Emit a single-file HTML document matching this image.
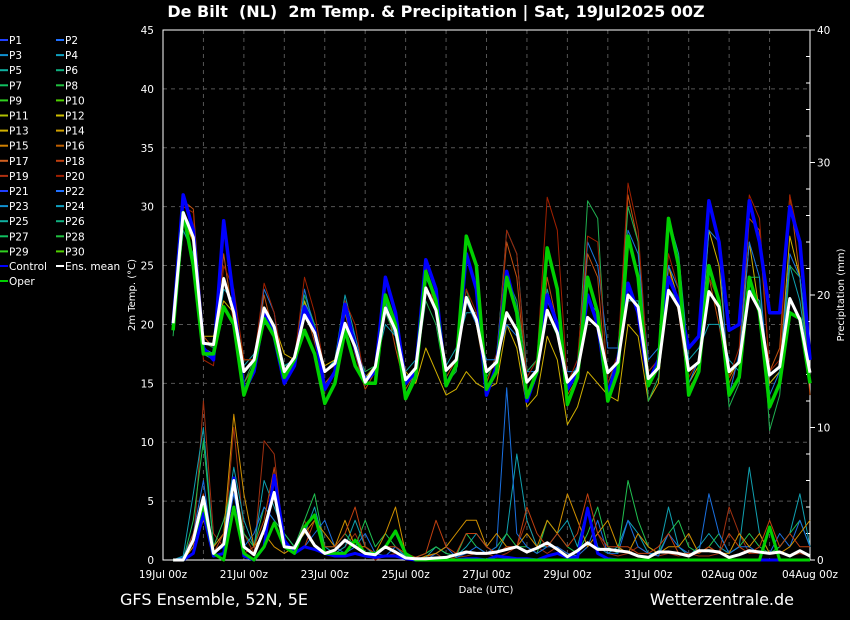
<!DOCTYPE html>
<html><head><meta charset="utf-8"><style>
html,body{margin:0;padding:0;background:#000;width:850px;height:620px;overflow:hidden}
svg{display:block;font-family:"DejaVu Sans","Liberation Sans",sans-serif}
text{white-space:pre}
</style></head><body>
<svg id="chart" width="850" height="620" viewBox="0 0 850 620">
<text x="436" y="17" fill="#fff" font-size="16" font-weight="bold" text-anchor="middle" xml:space="preserve">De Bilt  (NL)  2m Temp. &amp; Precipitation | Sat, 19Jul2025 00Z</text>
<g id="grid"></g>
<g id="axes"></g>
<g id="series"></g>
<g id="legend"></g>
<text transform="translate(135,295) rotate(-90)" fill="#fff" font-size="10" text-anchor="middle">2m Temp. (°C)</text>
<text transform="translate(844,295) rotate(-90)" fill="#fff" font-size="10" text-anchor="middle">Precipitation (mm)</text>
<text x="486" y="593" fill="#fff" font-size="10" text-anchor="middle">Date (UTC)</text>
<text x="120" y="605" fill="#fff" font-size="16">GFS Ensemble, 52N, 5E</text>
<text x="794" y="605" fill="#fff" font-size="16" text-anchor="end">Wetterzentrale.de</text>
</svg>
<script>
const xLabels=["19Jul 00z","21Jul 00z","23Jul 00z","25Jul 00z","27Jul 00z","29Jul 00z","31Jul 00z","02Aug 00z","04Aug 00z"];
const tempTicks=[0,5,10,15,20,25,30,35,40,45];
const precTicks=[0,10,20,30,40];
const meanTemp=[20.1,29.5,27.4,18.4,18.3,23.9,21,16,17,21.4,19.8,16,17.2,20.8,19.3,16,16.7,20.1,18.1,15.1,16.4,21.4,19.5,15.3,16.3,23.1,21.2,16.1,17,22.3,20.4,16,16.8,21,19.5,15.1,16.1,21.2,19.3,15.1,16.1,20.6,19.8,15.9,16.8,22.5,21.5,15.4,16.3,22.9,21.5,16.1,16.8,22.8,21.5,16,16.8,22.8,21.2,15.7,16.4,22.2,20.4,15.9];
const controlTemp=[20,31,28,18,17,28.8,22,14.3,16,21,19,15,16.5,21.5,19.5,14.5,16,21.7,18,15.2,16,24,21,15,16,25.5,23,14.8,16.5,26,23,14,16.5,24.5,21,13.5,16,22.5,20,14.5,16,22.5,20,14,17,23.5,21,15,17,24,22,18,19,30.5,27,19.5,20,30.5,27,21,21,30,27,17];
const operTemp=[19.5,29.5,25,17.5,17.5,21.5,20,14,16.5,20.5,19,15.5,17,19.5,17.5,13.3,15,19.5,16.5,15,15,22.5,20,13.7,15.5,24.5,22,14.8,16.5,27.5,25,14.5,16,24,21,13.8,16,26.5,23,13.2,15.5,24,21,13.5,16,27.5,24,14.8,16.5,29,25,14,16,25,22,14,15.5,24,21,13,15,21,20.5,15];
const memT1=[20,30.5,29.8,19,18,26,20,15,16.5,22.5,19,15.5,17,21.5,18.5,15,16,21,17.5,14.5,16,22,18,14.5,16,25,21,15.5,17,22,20,15,17.5,27,24,15,16,24,20,14,15.5,26,24,13.5,16,31,27,15,16.5,25,21,14.5,16,24,20,15,17,29,28,16,18,31,24,14];
const memT2=[19.5,28,26,17.5,17,23,22,16.5,17.5,20,20,16.5,17,22,20,16,17,22.5,19,15.5,16.5,20,19,16,17,24,22,16.5,18,21,21,16,17,28,26,16,17,23,19.5,15,16.5,22,21,15,17,22,22,16,17,29,26,17,18,20,20,17,16,23,22,15,16,25,22,16];
const memT3=[20.5,29,27,19,19,22,21,17,17,21.5,20,17.5,17,22,19,16.5,17,21,18,15.5,16.5,22,20,16,15,18,16,14,14.5,16,15,14.5,15,20,18,13,14,19,17,11.5,13,16,15,14,13.5,20,19,13.5,15,25,22,15,16.5,28,25,15.5,17,27,21,15,16,27.5,24,16];
const memT4=[19,29.5,28,18.5,18,24,21,15,17,21,19.5,16.5,16.5,22.5,20,14.5,16,20,18,16,16.5,21,19,14,16,22,20,15,16,23,20,15.5,17,24,22,16,17,21,19,14.5,16,30.5,29,14,17,30,27,13.5,15.5,23,22,14,16,24,22,13,15,24,24,11,14,25,24,15];
const memT5=[20,31,28,18,17.5,28.5,22,16,17,23,21,15,17,23,19.5,16,16.5,21,19,15.5,16,22,19,15,16,23,22,16,17,22,20,17,17,20,19,16,16,22,20,16,16,27,25,18,18,28,26,17,18,25,23,15,17,28,27,14,17.5,27,24,14,16,26,24,17];
const memT6=[20,30,29.5,17,16.5,25,23,17,17,23.5,21,16,17,24,21,16,16.5,22,20,15,16.5,24,21,15,16.5,23,22,16,17,23,21,16,16.5,28,26,15.5,17,30.8,28,15,17,27.5,27,15,17.5,32,28,16,17,26,23,15.5,17,24,22,15.5,18,31,29,16,17,31,27,15];
const meanPrec=[0,0,1.5,4.75,0.5,1.2,6,1,0.4,2.3,5.1,1,0.9,2.3,1.1,0.5,0.75,1.5,1,0.5,0.4,1,0.6,0.15,0.1,0.1,0.15,0.2,0.4,0.6,0.5,0.5,0.6,0.8,1,0.6,0.9,1.3,0.8,0.25,0.7,1.3,0.8,0.8,0.7,0.6,0.3,0.2,0.6,0.6,0.5,0.3,0.7,0.7,0.6,0.2,0.4,0.7,0.6,0.5,0.6,0.3,0.7,0.3];
const controlPrec=[0,0,0.5,3.5,0.3,0.5,6.2,0.3,0,1,6.4,1.5,0.5,1,0.8,0.5,0.3,0.3,0.5,0.3,0.2,0.3,0.3,0.1,0,0,0,0,0,0.1,0.1,0,0.3,0.2,0.1,0.1,0,0.3,0.5,0.2,0.2,3.9,0.5,0.1,0,0,0,0,0,0,0,0,0,0,0,0,0,0,0,0,0,0,0,0];
const operPrec=[0,0,1.5,4.3,0.5,0,4,0.5,0,1,2.8,1,0.5,2.5,3.4,0.5,0.5,0.5,1.5,0.5,0.5,1,2.2,0.5,0,0,0,0,0,0,0,0,0,0,0,0,0,0,0,0,0,0,0,0,0,0,0,0,0,0,0,0,0,0,0,0,0,0,0,2.5,0,0,0,0];
const memP1=[0,0,1,12,2,1,10,2,0.5,9,8,1,0.5,3,1,0.5,0.5,1,2,0.5,0,0.3,0.5,0,0,0.2,0.5,0,0.2,0.3,0.5,0.5,0.2,0.5,1,3,1,0.5,1,0.5,0.3,1,2,0.5,0.3,0.5,1,0.5,0.3,0.5,0.3,0.5,0.3,0.3,0.5,4,2,0.5,0.5,0.5,0.5,0.3,0.5,0.3];
const memP2=[0,0.3,5,10,1,2,7,3,1,6,4,2,1,2,4,1,0.5,1,3,1,0.3,1,2,0.3,0,0.2,1,0.5,0.3,1,2,1,0.5,2,8,3,1,1,2,3,1,4,1,0.5,1,3,2,0.5,0.5,4,1,0.3,1,2,1,0.5,1,7,2,0.5,1,2,5,1];
const memP3=[0,0,3,9,1,3,6,2,1,4,3,2,1,3,5,1,1,2,1,3,1,2,1,0.3,0.2,0.5,1,0.5,0.3,2,1,0.5,1,2,1,1,0.5,3,2,1,0.5,2,4,1,0.5,6,3,1,0.5,2,3,1,0.5,1,2,0.5,1,2,1,0.5,1,2,3,1];
const memP4=[0,0.2,2,6,0.5,1,5,1,2,4,3,1,0.5,1,2,3,1,0.5,1,2,0.5,0.3,1,0.2,0,0,0.5,1,0.2,0.5,1,0.5,1,13,2,1,0.5,1,1,0.5,0.3,1,3,0.5,0.5,3,1,0.5,0.3,2,1,0.5,0.5,5,2,0.5,1,1,0.5,0.5,2,1,3,1];
const memP5=[0,0,1,3,1,2,11,5,1,2,1,0.5,1,2,3,2,1,3,1,1,0.5,2,4,0.5,0,0.3,0.5,1,2,3,3,1,2,1,1,2,1,3,2,5,3,1,2,3,1,0.5,2,1,0.5,1,1,2,0.5,1,0.5,0.5,2,1,2,0.5,0.5,1,2,3];
const memP6=[0,0,2,5,0.5,2,4,0.5,1,3,7,1,0.5,1,3,1,1,2,4,1,0.5,1,1,0.5,0.2,0.5,3,1,0.5,2,2,1,0.5,1,1,4,2,1,2,1,2,5,2,1,1,1,0.5,0.5,1,2,0.5,0.5,0.5,1,0.5,2,1,0.5,1,3,1,2,1,1];
const legendNames=["P1","P2","P3","P4","P5","P6","P7","P8","P9","P10","P11","P12","P13","P14","P15","P16","P17","P18","P19","P20","P21","P22","P23","P24","P25","P26","P27","P28","P29","P30"];

const NS="http://www.w3.org/2000/svg";
const X0=163,X1=810,Y0=560,Y1=30,NSTEP=64;
function xs(i){return X0+(X1-X0)*i/NSTEP;}
function yT(t){return Y0-(Y0-Y1)*t/45;}
function yP(p){return Y0-(Y0-Y1)*p/40;}
function mk(tag,attrs,parent){const e=document.createElementNS(NS,tag);for(const k in attrs)e.setAttribute(k,attrs[k]);parent.appendChild(e);return e;}
function legendColor(k){const c=["#2040ff","#2070ff","#1090d0","#10a0c0","#10b0a0","#10b080","#10c060","#20c040","#30d020","#50d000","#b0c000","#d0c000","#d0b000","#d0a000","#d08000","#c06000","#d06020","#c04010","#b03010","#a02000"];return c[k%20];}

const grid=document.getElementById('grid');
tempTicks.forEach(t=>{const l=mk('line',{x1:X0,x2:X1,y1:yT(t),y2:yT(t),stroke:'#555',"stroke-dasharray":'4,4',"stroke-width":1},grid);

});
for(let d=1;d<16;d++){const l=mk('line',{x1:xs(d*4),x2:xs(d*4),y1:Y1,y2:Y0,stroke:'#555',"stroke-dasharray":'4,4',"stroke-width":1},grid);

}

const axes=document.getElementById('axes');
mk('rect',{x:X0,y:Y1,width:X1-X0,height:Y0-Y1,fill:'none',stroke:'#fff',"stroke-width":1},axes);
tempTicks.forEach(t=>{const tx=mk('text',{x:154,y:yT(t)+4,fill:'#fff',"font-size":10.5,"text-anchor":'end'},axes);tx.textContent=t;

});
precTicks.forEach(p=>{const tx=mk('text',{x:817,y:yP(p)+4,fill:'#fff',"font-size":10.5},axes);tx.textContent=p;

});
for(let p=0;p<=40;p+=2){mk('line',{x1:X1-(p%10===0?0:4),x2:X1+(p%10===0?5:0),y1:yP(p),y2:yP(p),stroke:'#fff'},axes);}
xLabels.forEach((s,k)=>{const tx=mk('text',{x:xs(k*8),y:578,fill:'#fff',"font-size":10.5,"text-anchor":'middle'},axes);tx.textContent=s;

});

const series=document.getElementById('series');
function line(arr,yf,color,w,name){const pts=arr.map((v,i)=>xs(i+1).toFixed(1)+','+yf(v).toFixed(1)).join(' ');
const pl=mk('polyline',{points:pts,fill:'none',stroke:color,"stroke-width":w,"stroke-linejoin":'round'},series);

}
const memT=[memT1,memT2,memT3,memT4,memT5,memT6];
const memP=[memP1,memP2,memP3,memP4,memP5,memP6];
const tc=["#c05010","#10a0b0","#d0b000","#20b050","#1a78e0","#a02000"];
const pc=["#a03010","#10a0b0","#20c050","#1a70e0","#d09000","#c04010"];
memP.forEach((a,k)=>line(a,yP,pc[k],1,'precip-member-'+(k+1)));
memT.forEach((a,k)=>line(a,yT,tc[k],1,'temp-member-'+(k+1)));
line(controlPrec,yP,'#0000ff',3,'precip-control');
line(operPrec,yP,'#00d000',3,'precip-oper');
line(meanPrec,yP,'#ffffff',3,'precip-ens-mean');
line(controlTemp,yT,'#0000ff',3.5,'temp-control');
line(operTemp,yT,'#00d000',3.5,'temp-oper');
line(meanTemp,yT,'#ffffff',3,'temp-ens-mean');

const lg=document.getElementById('legend');
function entry(x,y,label,color){const g=mk('g',{},lg);


mk('line',{x1:x-9,x2:x-1,y1:y-4,y2:y-4,stroke:color,"stroke-width":2},g);
const t=mk('text',{x:x,y:y,fill:'#fff',"font-size":10.5},g);t.textContent=label;}
legendNames.forEach((n,k)=>{entry(k%2===0?9:65,44+Math.floor(k/2)*15.1,n,legendColor(k));});
entry(9,270,"Control","#0000ff");
entry(65,270,"Ens. mean","#ffffff");
entry(9,285,"Oper","#00d000");
</script>
</body></html>
